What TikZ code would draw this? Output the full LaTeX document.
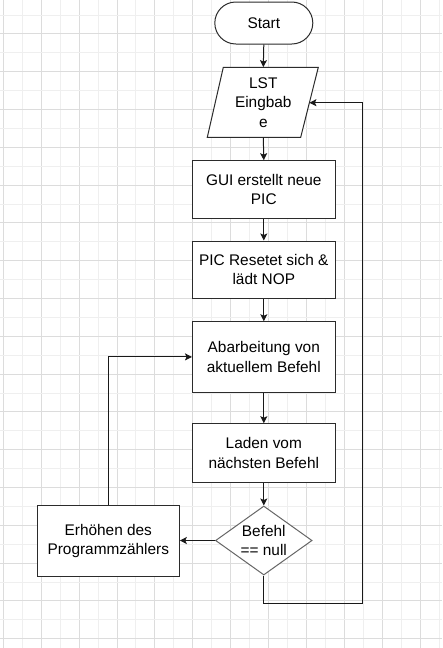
\documentclass[tikz,border=0pt]{standalone}
\usepackage{fontspec}
\setmainfont{Liberation Sans}
\usetikzlibrary{arrows.meta,shapes.geometric}
\definecolor{gridlight}{HTML}{EFEFEF}
\definecolor{griddark}{HTML}{DCDCDC}
\definecolor{boxline}{HTML}{2B2B2B}
\definecolor{diamline}{HTML}{666666}
\begin{document}
\begin{tikzpicture}[x=1pt,y=-1pt,
  every node/.style={font=\fontsize{15.4}{19.4}\selectfont, align=center, inner sep=0pt},
  box/.style={draw=boxline, line width=1pt, fill=white, minimum width=142.6pt},
  term/.style={draw=boxline, line width=1pt, fill=white, rounded corners=21pt, minimum width=98pt, minimum height=42pt},
  decision/.style={draw=diamline, line width=1pt, fill=white, diamond, minimum width=96.6pt, minimum height=69pt, aspect=1.4},
  arr/.style={draw=black!90, line width=1pt, -{Stealth[length=7pt,width=7pt,inset=1.5pt]}}
]
\useasboundingbox (0,0) rectangle (442,648);
\fill[white] (0,0) rectangle (442,648);
% grid
\foreach \k in {0,...,23} {
  \pgfmathsetmacro{\gx}{3.3+18.95*\k}
  \pgfmathtruncatemacro{\gpar}{mod(\k,2)}
  \ifnum\gpar=0 \draw[griddark, line width=1pt] (\gx,0) -- (\gx,648);
  \else \draw[gridlight, line width=1pt] (\gx,0) -- (\gx,648); \fi
}
\foreach \k in {0,...,33} {
  \pgfmathsetmacro{\gy}{15+18.9*\k}
  \pgfmathtruncatemacro{\gpar}{mod(\k,2)}
  \ifnum\gpar=1 \draw[griddark, line width=1pt] (0,\gy) -- (442,\gy);
  \else \draw[gridlight, line width=1pt] (0,\gy) -- (442,\gy); \fi
}
% nodes
\node[term] (start) at (263.8,23) {Start};
\draw[boxline, line width=1pt, fill=white] (207.3,137.3) -- (223.3,67.3) -- (318.3,67.3) -- (300.7,137.3) -- cycle;
\node[minimum width=80pt, minimum height=70pt] (lst) at (263.3,102.3) {LST\\Eingbab\\e};
\coordinate (lstE) at (309.4,102.7);
\node[box, minimum height=57.6pt] (gui) at (263.8,189.5) {GUI erstellt neue\\PIC};
\node[box, minimum height=57pt] (pic) at (263.8,269.5) {PIC Resetet sich \&\\lädt NOP};
\node[box, minimum height=70.3pt] (abar) at (263.8,356.9) {Abarbeitung von\\aktuellem Befehl};
\node[box, minimum height=58.6pt] (laden) at (263.8,453) {Laden vom\\nächsten Befehl};
\node[decision] (dia) at (263.8,540.5) {Befehl\\== null};
\node[box, minimum width=142pt, minimum height=71pt] (erh) at (108.3,540.8) {Erhöhen des\\Programmzählers};
\coordinate (r1) at (362,603);
% connectors
\draw[arr] (start.south) -- (lst.north);
\draw[arr] (lst.south) -- (gui.north);
\draw[arr] (gui.south) -- (pic.north);
\draw[arr] (pic.south) -- (abar.north);
\draw[arr] (abar.south) -- (laden.north);
\draw[arr] (laden.south) -- (dia.north);
\draw[arr] (dia.west) -- (dia.west -| erh.east);
\draw[arr] (erh.north) |- (abar.west);
\draw[arr] (dia.south) |- (r1) |- (lstE);
\end{tikzpicture}
\end{document}
